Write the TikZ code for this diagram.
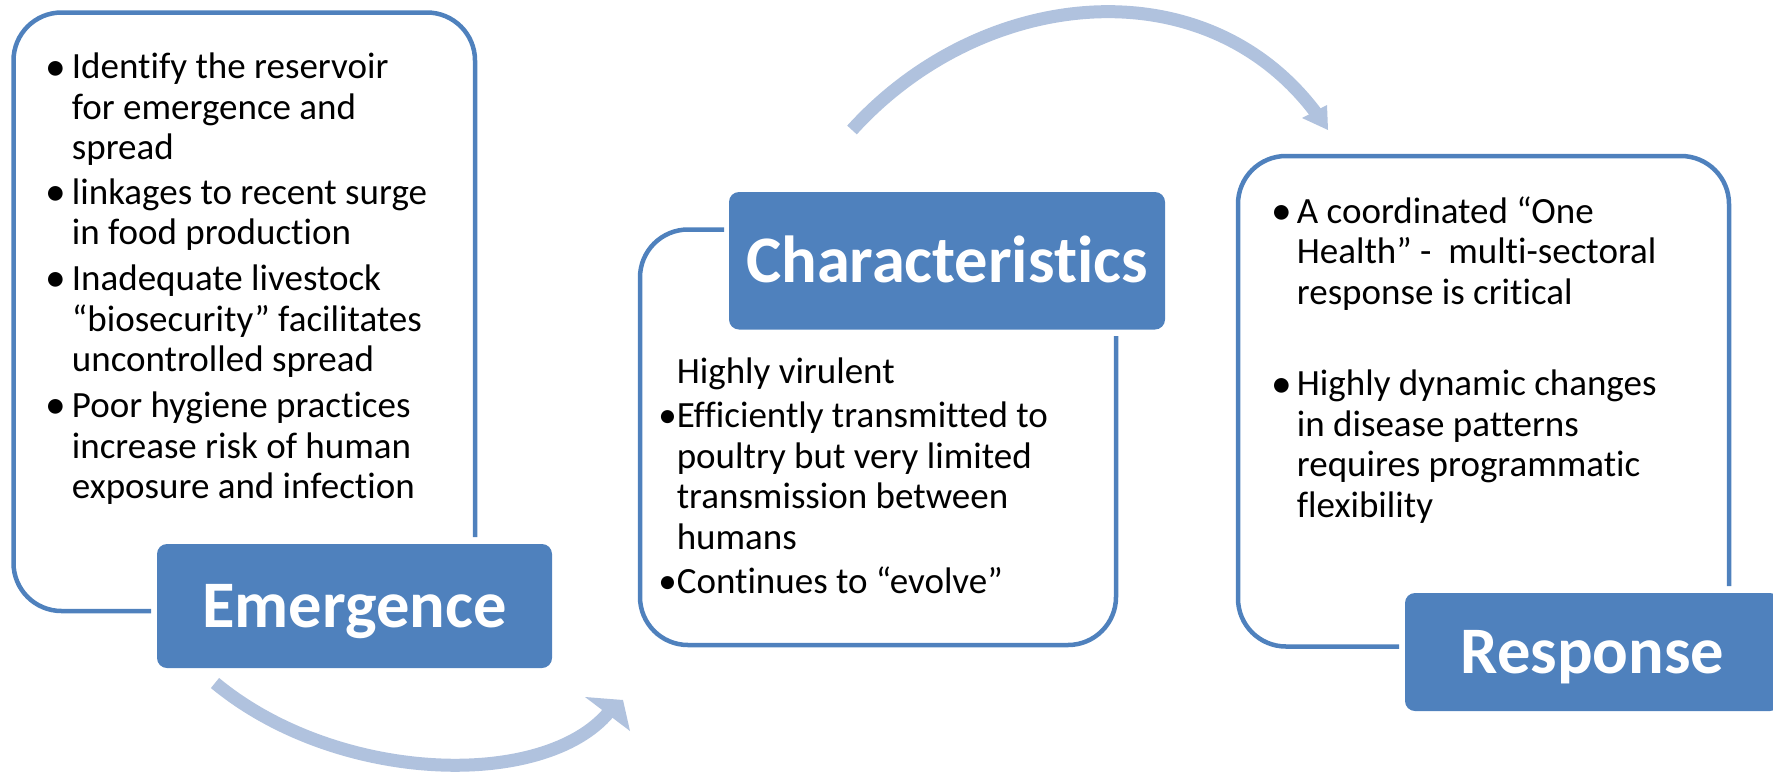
\documentclass[tikz,border=0pt]{standalone}
\usepackage{fontspec}
\setmainfont{Carlito}[Ligatures={NoCommon}]
\definecolor{accent}{RGB}{79,129,189}
\definecolor{arrowblue}{RGB}{176,194,222}
\newcommand\bigbul{\kern-2.5pt\raisebox{-1.2pt}{\scalebox{1.12}{•}}}
\begin{document}
\begin{tikzpicture}[x=1pt,y=-1pt,
  outline/.style={draw=accent, line width=4.5pt, rounded corners=48pt},
  label/.style={fill=accent, rounded corners=10pt, inner sep=0pt, text=white,
    font=\fontsize{66.5}{70}\selectfont\bfseries, text height=49pt, text depth=6pt},
  body/.style={anchor=base west, inner sep=0pt, font=\fontsize{37}{40.5}\selectfont},
  shaft/.style={draw=arrowblue, line width=13pt},
  head/.style={fill=arrowblue, draw=none}]
\useasboundingbox (0,0) rectangle (1773,772);
\clip (0,0) rectangle (1773,772);

% outlines
\draw[outline] (475,537) -- (475,12.5) -- (13.5,12.5) -- (13.5,611) -- (151,611);
\draw[outline] (724,229.5) -- (640,229.5) -- (640,645) -- (1116,645) -- (1116,336);
\draw[outline] (1729,586) -- (1729,156) -- (1238,156) -- (1238,646.5) -- (1399,646.5);

% title boxes
\node[label, minimum width=395pt, minimum height=124pt] (em) at (354.5,606) {Emergence};
\node[label, minimum width=436pt, minimum height=137.5pt] (ch) at (947,260.75) {Characteristics};
\node[label, minimum width=375pt, minimum height=118pt] (re) at (1592.5,652) {Response};

% Emergence text
\node[body] (e1) at (48,78.8) {\vtop{\hbox{\makebox[23.7pt][l]{\bigbul}Identify the reservoir}\hbox{\kern23.7pt for emergence and}\hbox{\kern23.7pt spread}}};
\node[body] (e2) at (48,204) {\vtop{\hbox{\makebox[23.7pt][l]{\bigbul}linkages to recent surge}\hbox{\kern23.7pt in food production}}};
\node[body] (e3) at (48,290.6) {\vtop{\hbox{\makebox[23.7pt][l]{\bigbul}Inadequate livestock}\hbox{\kern23.7pt “biosecurity” facilitates}\hbox{\kern23.7pt uncontrolled spread}}};
\node[body] (e4) at (48,417.7) {\vtop{\hbox{\makebox[23.7pt][l]{\bigbul}Poor hygiene practices}\hbox{\kern23.7pt increase risk of human}\hbox{\kern23.7pt exposure and infection}}};

% Characteristics text
\node[body] (c0) at (676.6,383) {Highly virulent};
\node[body] (c1) at (676.6,427.6) {\vtop{\hbox{\llap{•}Efficiently transmitted to}\hbox{poultry but very limited}\hbox{transmission between}\hbox{humans}}};
\node[body] (c2) at (676.6,593.6) {\llap{•}Continues to “evolve”};

% Response text
\node[body] (r1) at (1273.4,223) {\vtop{\hbox{\makebox[23.3pt][l]{\bigbul}A coordinated “One}\hbox{\kern23.3pt Health” -\ \ multi-sectoral}\hbox{\kern23.3pt response is critical}}};
\node[body] (r2) at (1273.4,395.8) {\vtop{\hbox{\makebox[23.3pt][l]{\bigbul}Highly dynamic changes}\hbox{\kern23.3pt in disease patterns}\hbox{\kern23.3pt requires programmatic}\hbox{\kern23.3pt flexibility}}};

% curved arrows
\coordinate (a1s) at (215,683);
\coordinate (a1e) at (609,712);
\draw[shaft] (a1s) .. controls (337,784) and (544,790) .. (a1e);
\fill[head] (585,697) -- (623,700) -- (630,731) -- cycle;

\coordinate (a2s) at (852,130);
\coordinate (a2e) at (1316,113);
\draw[shaft] (a2s) .. controls (981,-12.5) and (1204,-36) .. (a2e);
\fill[head] (1302,118) -- (1327,105) -- (1328,130) -- cycle;
\end{tikzpicture}
\end{document}
